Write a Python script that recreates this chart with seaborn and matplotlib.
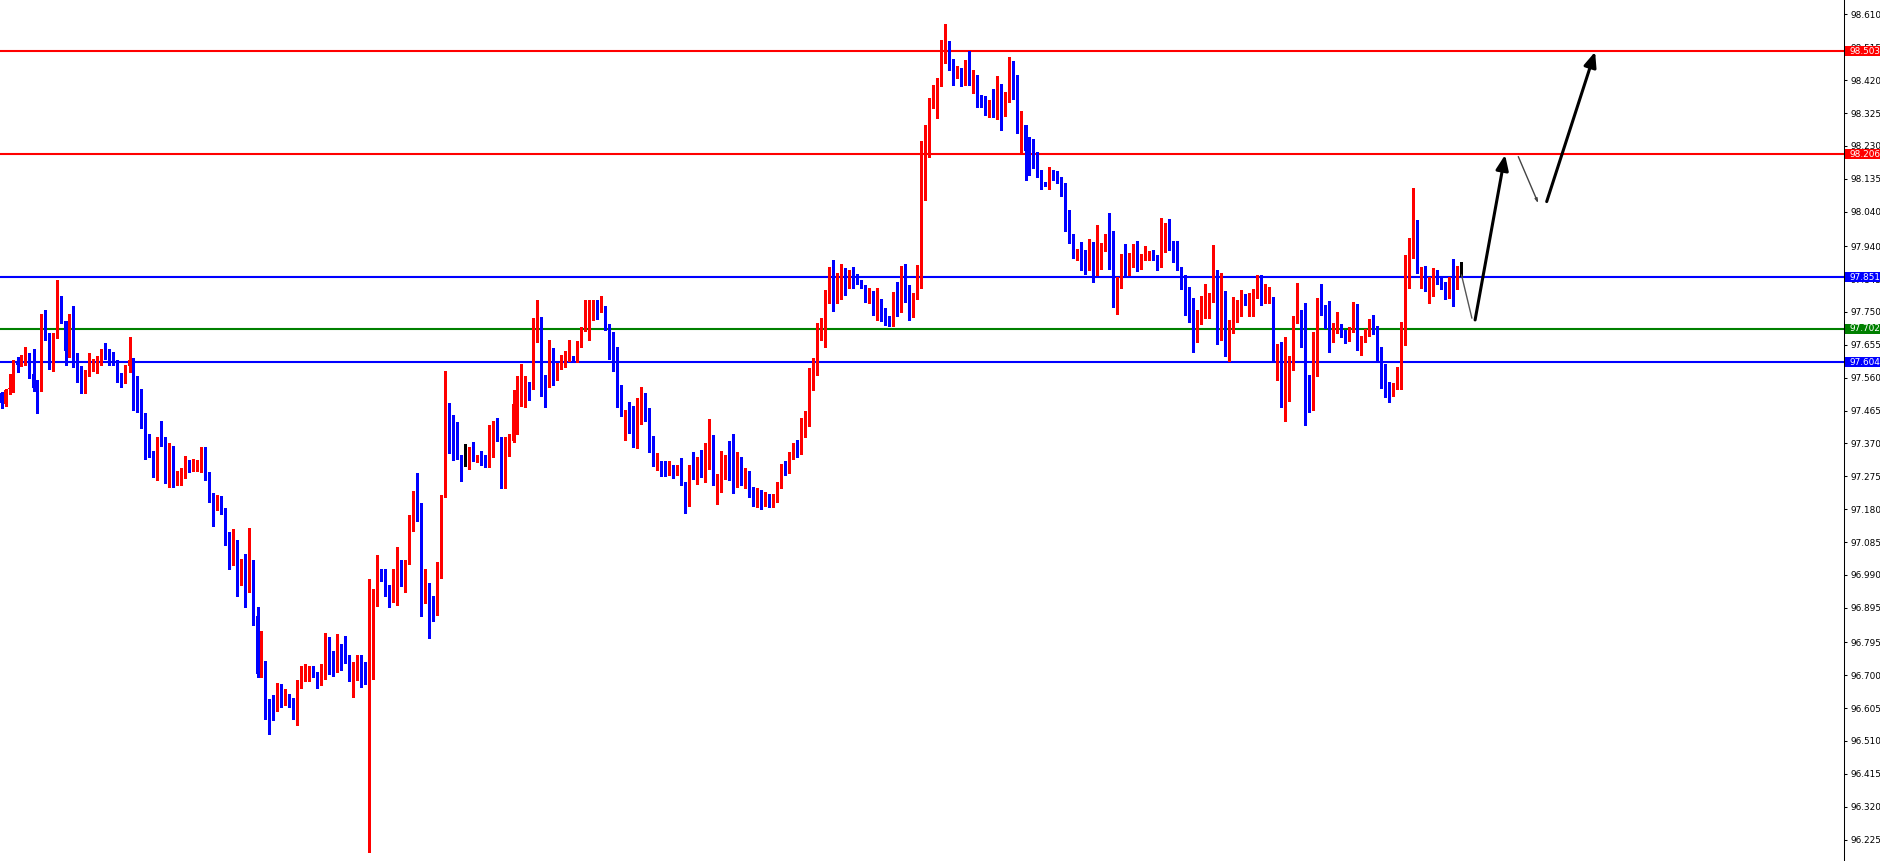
import numpy as np
import pandas as pd
import matplotlib
matplotlib.use("Agg")
import matplotlib.pyplot as plt
import seaborn as sns
from matplotlib.patches import Rectangle
from matplotlib.transforms import blended_transform_factory

# ---------------------------------------------------------------------------
# Data
# ---------------------------------------------------------------------------

opens = [
    97.517, 97.484, 97.526, 97.528, 97.608, 97.595, 97.611, 97.614, 97.571, 97.530,
    97.522, 97.729, 97.687, 97.595, 97.681, 97.741, 97.724, 97.638, 97.738, 97.628,
    97.592, 97.519, 97.568, 97.592, 97.592, 97.617, 97.637, 97.616, 97.613, 97.609,
    97.570, 97.547, 97.595, 97.611, 97.544, 97.521, 97.455, 97.397, 97.347, 97.291,
    97.380, 97.379, 97.264, 97.354, 97.255, 97.268, 97.288, 97.313, 97.293, 97.311,
    97.316, 97.325, 97.287, 97.209, 97.181, 97.194, 97.182, 97.108, 97.077, 97.088,
    96.968, 97.016, 96.951, 97.028, 96.871, 96.705, 96.738, 96.624, 96.612, 96.609,
    96.662, 96.626, 96.642, 96.629, 96.592, 96.679, 96.695, 96.700, 96.725, 96.703,
    96.672, 96.695, 96.806, 96.738, 96.728, 96.780, 96.771, 96.742, 96.703, 96.717,
    96.751, 96.693, 96.683, 96.855, 96.915, 97.001, 96.984, 96.954, 96.925, 96.932,
    97.025, 96.968, 97.028, 97.150, 97.197, 97.195, 96.922, 96.960, 96.885, 96.881,
    96.984, 97.216, 97.453, 97.398, 97.385, 97.329, 97.324, 97.323, 97.348, 97.315,
    97.333, 97.330, 97.315, 97.339, 97.421, 97.388, 97.325, 97.369, 97.378, 97.484,
    97.491, 97.526, 97.541, 97.529, 97.713, 97.733, 97.553, 97.546, 97.568, 97.563,
    97.587, 97.614, 97.618, 97.621, 97.611, 97.650, 97.698, 97.712, 97.732, 97.782,
    97.751, 97.760, 97.708, 97.659, 97.647, 97.518, 97.452, 97.455, 97.426, 97.390,
    97.430, 97.484, 97.467, 97.372, 97.308, 97.313, 97.301, 97.282, 97.301, 97.286,
    97.298, 97.258, 97.199, 97.291, 97.269, 97.330, 97.322, 97.327, 97.361, 97.267,
    97.269, 97.296, 97.325, 97.293, 97.284, 97.316, 97.262, 97.285, 97.230, 97.205,
    97.225, 97.200, 97.215, 97.195, 97.210, 97.250, 97.300, 97.290, 97.335, 97.350,
    97.345, 97.400, 97.430, 97.544, 97.578, 97.684, 97.713, 97.780, 97.817, 97.784,
    97.805, 97.869, 97.826, 97.848, 97.845, 97.838, 97.826, 97.792, 97.807, 97.744,
    97.783, 97.747, 97.722, 97.713, 97.805, 97.766, 97.872, 97.790, 97.789, 97.789,
    97.853, 98.163, 98.262, 98.358, 98.390, 98.413, 98.488, 98.529, 98.471, 98.433,
    98.452, 98.413, 98.472, 98.392, 98.432, 98.363, 98.349, 98.331, 98.355, 98.331,
    98.395, 98.337, 98.370, 98.472, 98.425, 98.286, 98.289, 98.215, 98.213, 98.209,
    98.158, 98.122, 98.117, 98.151, 98.141, 98.136, 98.120, 97.990, 97.971, 97.928,
    97.932, 97.918, 97.891, 97.949, 97.870, 97.894, 97.944, 97.955, 97.891, 97.775,
    97.845, 97.915, 97.883, 97.893, 97.941, 97.879, 97.903, 97.908, 97.918, 97.905,
    97.891, 97.968, 98.002, 97.944, 97.912, 97.876, 97.854, 97.792, 97.759, 97.679,
    97.737, 97.761, 97.773, 97.787, 97.814, 97.672, 97.807, 97.645, 97.693, 97.750,
    97.754, 97.799, 97.780, 97.794, 97.809, 97.814, 97.780, 97.787, 97.794, 97.611,
    97.653, 97.528, 97.609, 97.619, 97.725, 97.753, 97.690, 97.568, 97.517, 97.585,
    97.778, 97.767, 97.759, 97.677, 97.706, 97.711, 97.690, 97.682, 97.698, 97.737,
    97.642, 97.672, 97.684, 97.698, 97.690, 97.638, 97.589, 97.534, 97.510, 97.541,
    97.581, 97.698, 97.823, 97.908, 98.004, 97.864, 97.873, 97.820, 97.841, 97.867,
    97.847, 97.835, 97.794, 97.823, 97.820, 97.855,
]

highs = [
    97.519, 97.527, 97.572, 97.611, 97.619, 97.625, 97.648, 97.630, 97.643, 97.553,
    97.744, 97.757, 97.690, 97.690, 97.842, 97.796, 97.724, 97.744, 97.767, 97.631,
    97.595, 97.582, 97.631, 97.613, 97.624, 97.643, 97.659, 97.643, 97.634, 97.611,
    97.575, 97.598, 97.677, 97.617, 97.565, 97.528, 97.459, 97.397, 97.347, 97.388,
    97.435, 97.388, 97.370, 97.362, 97.290, 97.299, 97.333, 97.321, 97.325, 97.322,
    97.360, 97.360, 97.287, 97.226, 97.220, 97.217, 97.184, 97.114, 97.123, 97.092,
    97.036, 97.051, 97.126, 97.034, 96.896, 96.828, 96.742, 96.631, 96.642, 96.678,
    96.675, 96.659, 96.645, 96.634, 96.687, 96.728, 96.733, 96.728, 96.728, 96.709,
    96.733, 96.823, 96.812, 96.769, 96.818, 96.789, 96.814, 96.760, 96.739, 96.758,
    96.760, 96.739, 96.977, 96.948, 97.048, 97.006, 97.006, 96.962, 97.006, 97.072,
    97.034, 97.034, 97.163, 97.232, 97.286, 97.197, 97.006, 96.968, 96.929, 97.028,
    97.221, 97.580, 97.486, 97.453, 97.433, 97.337, 97.367, 97.359, 97.375, 97.337,
    97.348, 97.337, 97.423, 97.434, 97.443, 97.390, 97.390, 97.396, 97.525, 97.565,
    97.599, 97.565, 97.547, 97.732, 97.786, 97.736, 97.568, 97.669, 97.645, 97.603,
    97.626, 97.637, 97.669, 97.623, 97.667, 97.706, 97.786, 97.785, 97.785, 97.785,
    97.796, 97.767, 97.715, 97.693, 97.650, 97.539, 97.467, 97.489, 97.478, 97.500,
    97.532, 97.517, 97.472, 97.392, 97.342, 97.320, 97.319, 97.319, 97.308, 97.308,
    97.327, 97.260, 97.308, 97.346, 97.332, 97.351, 97.372, 97.441, 97.394, 97.282,
    97.348, 97.337, 97.377, 97.397, 97.346, 97.330, 97.300, 97.290, 97.245, 97.240,
    97.235, 97.230, 97.225, 97.225, 97.260, 97.310, 97.320, 97.345, 97.370, 97.380,
    97.443, 97.463, 97.588, 97.617, 97.718, 97.732, 97.814, 97.880, 97.899, 97.862,
    97.888, 97.877, 97.872, 97.879, 97.859, 97.843, 97.829, 97.819, 97.811, 97.819,
    97.787, 97.761, 97.737, 97.809, 97.838, 97.882, 97.889, 97.829, 97.805, 97.886,
    98.245, 98.291, 98.368, 98.406, 98.426, 98.536, 98.583, 98.532, 98.480, 98.461,
    98.454, 98.479, 98.503, 98.450, 98.435, 98.377, 98.375, 98.363, 98.394, 98.432,
    98.409, 98.385, 98.486, 98.474, 98.435, 98.331, 98.291, 98.255, 98.249, 98.213,
    98.161, 98.127, 98.170, 98.159, 98.156, 98.141, 98.124, 98.045, 97.975, 97.932,
    97.953, 97.928, 97.960, 97.951, 98.002, 97.949, 97.976, 98.037, 97.984, 97.850,
    97.918, 97.947, 97.920, 97.946, 97.954, 97.918, 97.941, 97.925, 97.929, 97.915,
    98.023, 98.008, 98.019, 97.956, 97.956, 97.879, 97.857, 97.823, 97.790, 97.756,
    97.795, 97.831, 97.804, 97.944, 97.870, 97.862, 97.811, 97.727, 97.794, 97.785,
    97.814, 97.802, 97.806, 97.817, 97.857, 97.857, 97.831, 97.823, 97.794, 97.658,
    97.662, 97.679, 97.624, 97.737, 97.833, 97.756, 97.775, 97.568, 97.693, 97.790,
    97.831, 97.770, 97.782, 97.717, 97.751, 97.715, 97.698, 97.706, 97.778, 97.773,
    97.681, 97.700, 97.730, 97.741, 97.710, 97.648, 97.600, 97.547, 97.544, 97.592,
    97.722, 97.915, 97.963, 98.107, 98.016, 97.881, 97.883, 97.852, 97.876, 97.871,
    97.854, 97.838, 97.850, 97.902, 97.883, 97.894,
]

lows = [
    97.471, 97.478, 97.513, 97.519, 97.577, 97.595, 97.597, 97.558, 97.522, 97.459,
    97.522, 97.670, 97.586, 97.580, 97.674, 97.719, 97.597, 97.621, 97.592, 97.548,
    97.517, 97.517, 97.565, 97.579, 97.574, 97.597, 97.615, 97.597, 97.596, 97.547,
    97.534, 97.545, 97.577, 97.467, 97.462, 97.416, 97.326, 97.332, 97.274, 97.265,
    97.363, 97.257, 97.243, 97.243, 97.249, 97.249, 97.269, 97.287, 97.291, 97.289,
    97.288, 97.265, 97.202, 97.130, 97.179, 97.165, 97.077, 97.008, 97.020, 96.930,
    96.962, 96.898, 96.942, 96.846, 96.695, 96.695, 96.573, 96.529, 96.571, 96.596,
    96.609, 96.615, 96.609, 96.573, 96.556, 96.664, 96.683, 96.683, 96.695, 96.663,
    96.672, 96.690, 96.703, 96.697, 96.708, 96.714, 96.734, 96.682, 96.637, 96.687,
    96.667, 96.675, 96.190, 96.690, 96.899, 96.973, 96.929, 96.896, 96.913, 96.904,
    96.957, 96.942, 97.021, 97.117, 97.147, 96.871, 96.910, 96.808, 96.857, 96.874,
    96.982, 97.216, 97.342, 97.321, 97.325, 97.262, 97.306, 97.296, 97.318, 97.315,
    97.307, 97.303, 97.303, 97.332, 97.378, 97.241, 97.240, 97.335, 97.375, 97.397,
    97.478, 97.474, 97.496, 97.527, 97.664, 97.507, 97.474, 97.534, 97.539, 97.552,
    97.584, 97.592, 97.608, 97.604, 97.606, 97.650, 97.696, 97.669, 97.727, 97.730,
    97.749, 97.698, 97.614, 97.579, 97.474, 97.448, 97.380, 97.401, 97.361, 97.358,
    97.426, 97.436, 97.346, 97.305, 97.292, 97.277, 97.277, 97.280, 97.269, 97.279,
    97.250, 97.170, 97.190, 97.266, 97.253, 97.272, 97.260, 97.296, 97.250, 97.195,
    97.231, 97.266, 97.265, 97.228, 97.245, 97.250, 97.240, 97.215, 97.190, 97.185,
    97.180, 97.190, 97.185, 97.185, 97.200, 97.240, 97.280, 97.285, 97.325, 97.330,
    97.340, 97.390, 97.420, 97.525, 97.568, 97.670, 97.648, 97.776, 97.754, 97.776,
    97.787, 97.800, 97.819, 97.819, 97.831, 97.819, 97.780, 97.776, 97.740, 97.727,
    97.723, 97.713, 97.710, 97.710, 97.739, 97.749, 97.780, 97.727, 97.735, 97.787,
    97.819, 98.074, 98.197, 98.339, 98.310, 98.403, 98.469, 98.448, 98.406, 98.426,
    98.403, 98.406, 98.406, 98.382, 98.341, 98.342, 98.320, 98.313, 98.313, 98.308,
    98.276, 98.317, 98.358, 98.365, 98.268, 98.209, 98.132, 98.146, 98.167, 98.141,
    98.106, 98.114, 98.105, 98.130, 98.122, 98.084, 97.985, 97.949, 97.905, 97.901,
    97.872, 97.860, 97.872, 97.838, 97.857, 97.874, 97.925, 97.874, 97.764, 97.745,
    97.819, 97.857, 97.857, 97.879, 97.867, 97.874, 97.901, 97.899, 97.899, 97.870,
    97.879, 97.922, 97.929, 97.893, 97.870, 97.817, 97.742, 97.720, 97.633, 97.662,
    97.716, 97.732, 97.732, 97.780, 97.658, 97.669, 97.623, 97.607, 97.690, 97.722,
    97.737, 97.770, 97.737, 97.739, 97.790, 97.770, 97.775, 97.775, 97.611, 97.552,
    97.474, 97.436, 97.494, 97.581, 97.719, 97.650, 97.424, 97.462, 97.467, 97.565,
    97.741, 97.703, 97.633, 97.662, 97.689, 97.679, 97.661, 97.667, 97.693, 97.640,
    97.626, 97.664, 97.681, 97.687, 97.604, 97.530, 97.505, 97.491, 97.508, 97.527,
    97.527, 97.655, 97.818, 97.905, 97.862, 97.820, 97.812, 97.777, 97.796, 97.831,
    97.817, 97.787, 97.790, 97.767, 97.816, 97.855,
]

closes = [
    97.486, 97.524, 97.531, 97.601, 97.598, 97.611, 97.617, 97.569, 97.529, 97.522,
    97.729, 97.687, 97.592, 97.683, 97.741, 97.722, 97.638, 97.738, 97.629, 97.592,
    97.519, 97.571, 97.601, 97.597, 97.617, 97.637, 97.615, 97.611, 97.603, 97.569,
    97.547, 97.597, 97.611, 97.543, 97.519, 97.453, 97.395, 97.346, 97.291, 97.379,
    97.375, 97.264, 97.354, 97.255, 97.273, 97.290, 97.325, 97.293, 97.311, 97.318,
    97.322, 97.286, 97.207, 97.179, 97.194, 97.176, 97.105, 97.076, 97.091, 96.965,
    97.019, 96.951, 97.027, 96.871, 96.703, 96.738, 96.617, 96.612, 96.607, 96.662,
    96.620, 96.642, 96.629, 96.592, 96.681, 96.695, 96.703, 96.723, 96.701, 96.678,
    96.695, 96.806, 96.736, 96.728, 96.780, 96.767, 96.742, 96.700, 96.717, 96.751,
    96.692, 96.681, 96.855, 96.918, 97.004, 96.979, 96.951, 96.925, 96.935, 97.025,
    96.968, 97.031, 97.152, 97.197, 97.193, 96.922, 96.960, 96.885, 96.881, 96.990,
    97.218, 97.453, 97.398, 97.381, 97.329, 97.318, 97.324, 97.348, 97.318, 97.329,
    97.328, 97.315, 97.341, 97.425, 97.387, 97.325, 97.370, 97.380, 97.484, 97.493,
    97.526, 97.544, 97.531, 97.715, 97.732, 97.552, 97.546, 97.568, 97.563, 97.594,
    97.618, 97.621, 97.643, 97.609, 97.657, 97.701, 97.715, 97.738, 97.780, 97.751,
    97.765, 97.703, 97.657, 97.644, 97.517, 97.449, 97.455, 97.428, 97.390, 97.431,
    97.484, 97.462, 97.372, 97.308, 97.313, 97.296, 97.282, 97.305, 97.289, 97.303,
    97.253, 97.202, 97.291, 97.271, 97.330, 97.322, 97.330, 97.356, 97.255, 97.271,
    97.298, 97.322, 97.289, 97.282, 97.316, 97.262, 97.285, 97.230, 97.205, 97.225,
    97.200, 97.215, 97.195, 97.210, 97.250, 97.300, 97.290, 97.335, 97.350, 97.345,
    97.400, 97.430, 97.546, 97.578, 97.689, 97.718, 97.783, 97.817, 97.785, 97.805,
    97.872, 97.826, 97.853, 97.845, 97.835, 97.824, 97.792, 97.807, 97.745, 97.785,
    97.747, 97.720, 97.716, 97.803, 97.766, 97.872, 97.787, 97.785, 97.793, 97.853,
    98.163, 98.265, 98.361, 98.392, 98.419, 98.488, 98.529, 98.469, 98.430, 98.454,
    98.413, 98.472, 98.416, 98.432, 98.361, 98.347, 98.329, 98.358, 98.329, 98.395,
    98.337, 98.370, 98.472, 98.421, 98.286, 98.291, 98.214, 98.212, 98.201, 98.156,
    98.120, 98.117, 98.151, 98.138, 98.132, 98.117, 97.987, 97.971, 97.927, 97.932,
    97.915, 97.891, 97.949, 97.870, 97.899, 97.947, 97.955, 97.891, 97.775, 97.843,
    97.915, 97.883, 97.893, 97.944, 97.879, 97.908, 97.913, 97.918, 97.902, 97.891,
    97.970, 98.002, 97.941, 97.912, 97.872, 97.848, 97.790, 97.759, 97.679, 97.739,
    97.766, 97.773, 97.787, 97.816, 97.677, 97.807, 97.645, 97.700, 97.753, 97.754,
    97.797, 97.780, 97.801, 97.814, 97.818, 97.783, 97.791, 97.793, 97.613, 97.655,
    97.528, 97.611, 97.621, 97.727, 97.753, 97.690, 97.566, 97.517, 97.587, 97.778,
    97.766, 97.758, 97.679, 97.710, 97.711, 97.689, 97.682, 97.700, 97.737, 97.642,
    97.679, 97.690, 97.700, 97.687, 97.638, 97.583, 97.532, 97.510, 97.534, 97.581,
    97.698, 97.828, 97.910, 98.004, 97.864, 97.878, 97.820, 97.841, 97.862, 97.844,
    97.833, 97.794, 97.823, 97.818, 97.857, 97.855,
]

# horizontal levels marked on the chart
level_prices = [98.503, 98.206, 97.851, 97.702, 97.604]
level_labels = ["98.503", "98.206", "97.851", "97.702", "97.604"]
level_colors = ["#FF0000", "#FF0000", "#0000FF", "#008000", "#0000FF"]

# price scale on the right
tick_values = [98.610, 98.515, 98.420, 98.325, 98.230, 98.135, 98.040, 97.940,
               97.845, 97.750, 97.655, 97.560, 97.465, 97.370, 97.275, 97.180,
               97.085, 96.990, 96.895, 96.795, 96.700, 96.605, 96.510, 96.415,
               96.320, 96.225]
tick_labels = ["98.610", "98.515", "98.420", "98.325", "98.230", "98.135",
               "98.040", "97.940", "97.845", "97.750", "97.655", "97.560",
               "97.465", "97.370", "97.275", "97.180", "97.085", "96.990",
               "96.895", "96.795", "96.700", "96.605", "96.510", "96.415",
               "96.320", "96.225"]

# hand-drawn projection: (bar index, price)
proj_x = [365.0, 367.6, 368.4, 375.9, 379.2, 384.2, 386.3, 398.4]
proj_y = [97.857, 97.732, 97.727, 98.204, 98.199, 98.064, 98.069, 98.502]

# ---------------------------------------------------------------------------
# Figure
# ---------------------------------------------------------------------------

sns.set_style("white")
plt.rcParams["font.family"] = ["DejaVu Sans"]

W, H = 1881, 861
AX_W = 1844
fig = plt.figure(figsize=(W / 100, H / 100), dpi=100)
ax = fig.add_axes([0, 0, AX_W / W, 1])

df = pd.DataFrame({"open": opens, "high": highs, "low": lows, "close": closes})
df["idx"] = np.arange(len(df))
df["color"] = np.where(df["close"] > df["open"], "#FF0000",
                       np.where(df["close"] < df["open"], "#0000FF", "#000000"))
df["bottom"] = df[["open", "close"]].min(axis=1)
df["height"] = (df["close"] - df["open"]).abs().clip(lower=0.003)

# price lines first (under candles)
bid = closes[-1]
ax.axhline(bid, color="#C0C0C0", lw=0.8, zorder=1)
for p, c in zip(level_prices, level_colors):
    ax.axhline(p, color=c, lw=1.5, zorder=1.5)

ax.vlines(df["idx"], df["low"], df["high"], colors=df["color"], lw=0.75,
          antialiased=False, zorder=2)
ax.bar(df["idx"], df["height"], bottom=df["bottom"], width=0.75,
       color=df["color"], linewidth=0, antialiased=False, zorder=2)

# projection arrows
ax.plot(proj_x[0:2], proj_y[0:2], color="#555555", lw=1.0, zorder=4)
ax.annotate("", xy=(proj_x[3], proj_y[3]), xytext=(proj_x[2], proj_y[2]),
            arrowprops=dict(arrowstyle="-|>,head_length=0.6,head_width=0.25",
                            mutation_scale=15, lw=2.2, color="black",
                            shrinkA=0, shrinkB=0), zorder=4)
ax.annotate("", xy=(proj_x[5], proj_y[5]), xytext=(proj_x[4], proj_y[4]),
            arrowprops=dict(arrowstyle="-|>,head_length=0.4,head_width=0.12",
                            mutation_scale=6, lw=1.0, color="#444444",
                            shrinkA=0, shrinkB=0), zorder=4)
ax.annotate("", xy=(proj_x[7], proj_y[7]), xytext=(proj_x[6], proj_y[6]),
            arrowprops=dict(arrowstyle="-|>,head_length=0.6,head_width=0.25",
                            mutation_scale=15, lw=2.2, color="black",
                            shrinkA=0, shrinkB=0), zorder=4)

# axes limits: bar i sits at pixel 1.5 + 4*i
ax.set_xlim(-1.5 / 4, (AX_W - 1.5) / 4)
ppu = 346.0
ax.set_ylim(98.610 - (H - 14.4) / ppu, 98.610 + 14.4 / ppu)

ax.set_xticks([])
ax.yaxis.tick_right()
ax.set_yticks(tick_values)
ax.set_yticklabels(tick_labels)
ax.tick_params(axis="y", direction="out", length=2.2, width=0.75, pad=2.2,
               labelsize=6.4, colors="black", right=True, left=False)
for side in ["top", "left", "bottom"]:
    ax.spines[side].set_visible(False)
ax.spines["right"].set_color("black")
ax.spines["right"].set_linewidth(0.75)

# coloured price labels on the scale
trans = blended_transform_factory(fig.transFigure, ax.transData)
box_h = 10 / ppu
for p, lab, c in zip(level_prices, level_labels, level_colors):
    r = Rectangle((1845 / W, p - box_h / 2), 36 / W, box_h, transform=trans,
                  facecolor=c, edgecolor="none", clip_on=False, zorder=10)
    ax.add_patch(r)
    ax.text(1850 / W, p, lab, transform=trans, ha="left", va="center",
            fontsize=6.4, color="white", clip_on=False, zorder=11)

fig.savefig("out.png", dpi=100)
